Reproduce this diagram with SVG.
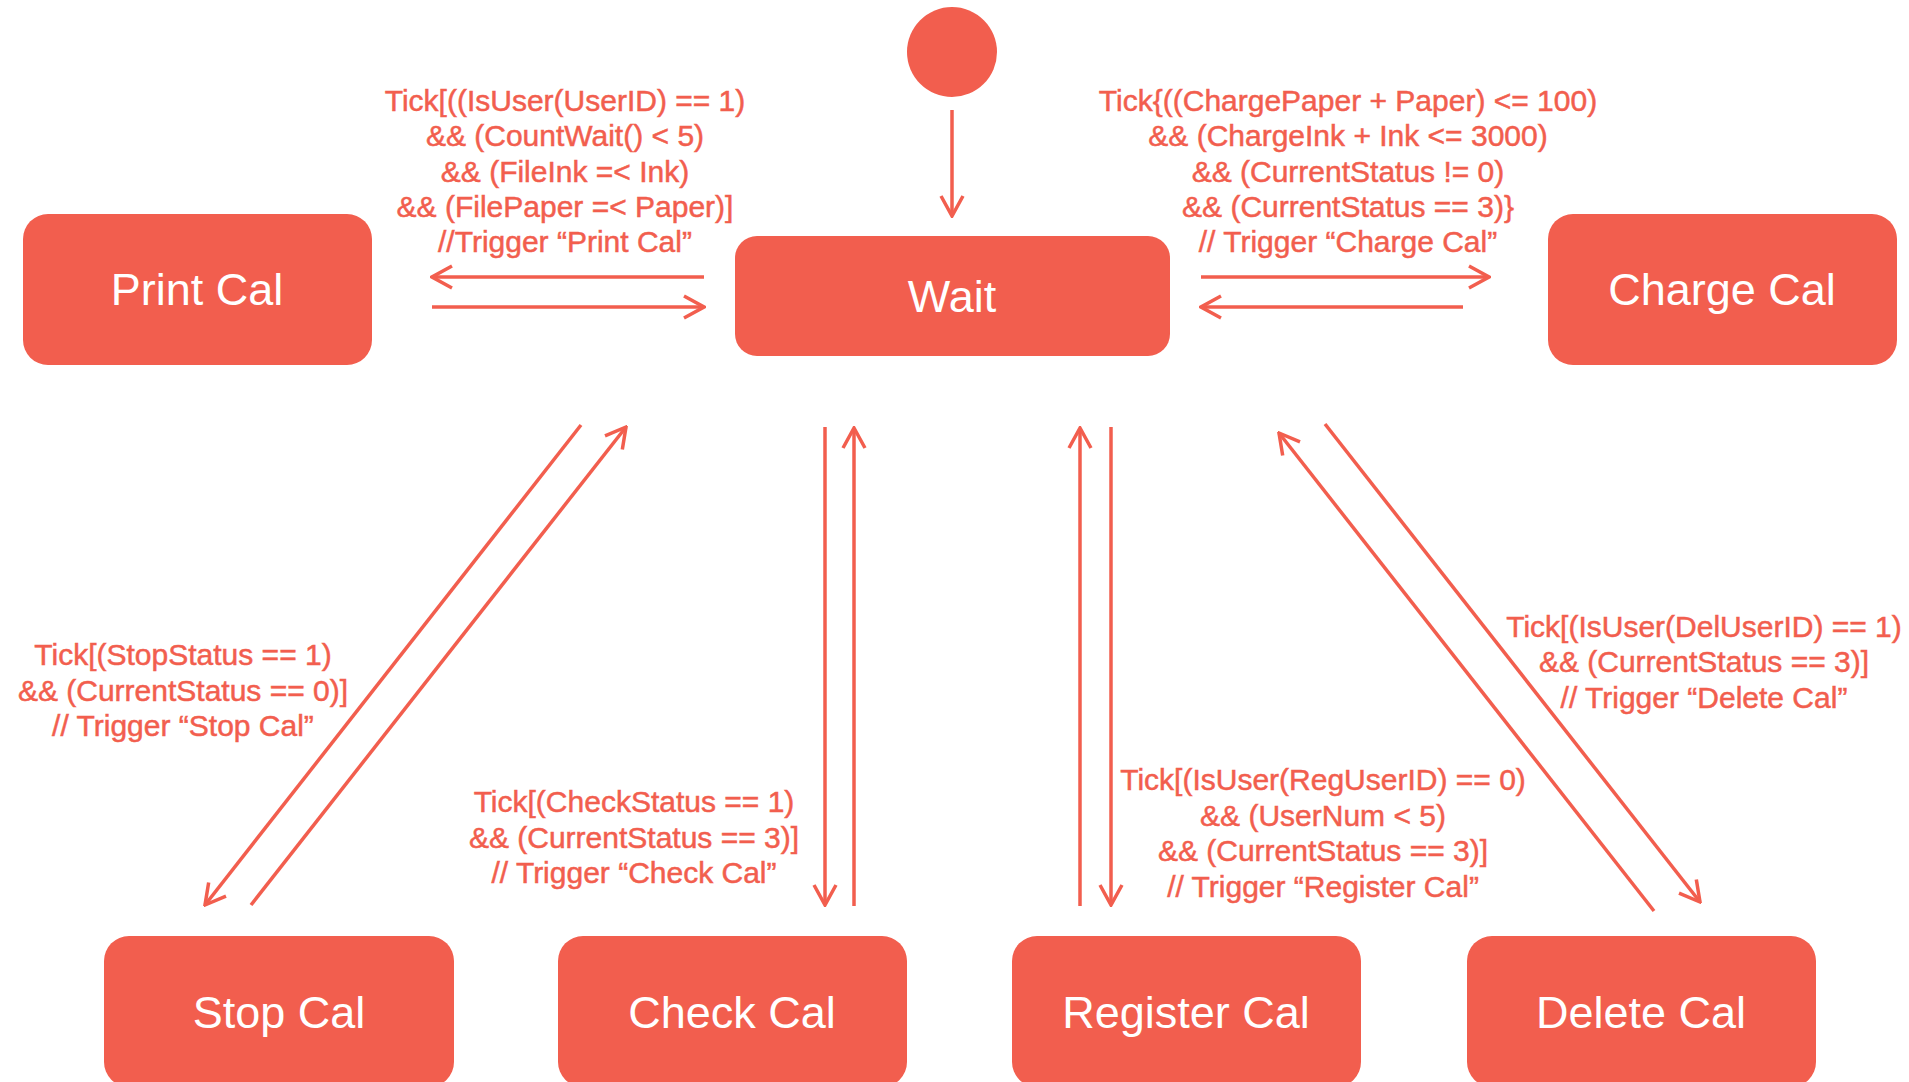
<svg xmlns="http://www.w3.org/2000/svg" width="1909" height="1082" viewBox="0 0 1909 1082">
<style>
.node rect{fill:#F25E4E}
.node text{fill:#FFFFFF;font-family:"Liberation Sans",Arial,sans-serif;font-size:45px;text-anchor:middle}
.lbl{fill:#F25E4E;stroke:#F25E4E;stroke-width:0.5;font-family:"Liberation Sans",Arial,sans-serif;font-size:30px;text-anchor:middle}
.edge{stroke:#F25E4E;stroke-width:3.5;fill:none;marker-end:url(#arr)}
</style>
<defs>
<marker id="arr" markerUnits="userSpaceOnUse" viewBox="0 0 24 26" refX="22" refY="13" markerWidth="24" markerHeight="26" orient="auto">
<path d="M2,2 L22,13 L2,24" fill="none" stroke="#F25E4E" stroke-width="3.5"/>
</marker>
</defs>
<rect width="1909" height="1082" fill="#FFFFFF"/>
<g id="start"><circle cx="952" cy="52" r="45" fill="#F25E4E"/></g>
<g id="wait" class="node"><rect x="735" y="236" width="435" height="120" rx="22"/><text x="952" y="312">Wait</text></g>
<g id="print" class="node"><rect x="23" y="214" width="349" height="151" rx="25"/><text x="197" y="305">Print Cal</text></g>
<g id="charge" class="node"><rect x="1548" y="214" width="349" height="151" rx="25"/><text x="1722" y="305">Charge Cal</text></g>
<g id="stop" class="node"><rect x="104" y="936" width="350" height="151" rx="25"/><text x="279" y="1028">Stop Cal</text></g>
<g id="check" class="node"><rect x="558" y="936" width="349" height="151" rx="25"/><text x="732" y="1028">Check Cal</text></g>
<g id="register" class="node"><rect x="1012" y="936" width="349" height="151" rx="25"/><text x="1186" y="1028">Register Cal</text></g>
<g id="delete" class="node"><rect x="1467" y="936" width="349" height="151" rx="25"/><text x="1641" y="1028">Delete Cal</text></g>
<g id="connectors">
<line class="edge" x1="952" y1="110" x2="952" y2="216"/>
<line class="edge" x1="704" y1="277" x2="432" y2="277"/>
<line class="edge" x1="432" y1="307" x2="704" y2="307"/>
<line class="edge" x1="1201" y1="277" x2="1489" y2="277"/>
<line class="edge" x1="1463" y1="307" x2="1201" y2="307"/>
<line class="edge" x1="581" y1="425" x2="205" y2="905"/>
<line class="edge" x1="251" y1="905" x2="626" y2="427"/>
<line class="edge" x1="825" y1="427" x2="825" y2="905"/>
<line class="edge" x1="854" y1="906" x2="854" y2="428"/>
<line class="edge" x1="1080" y1="906" x2="1080" y2="428"/>
<line class="edge" x1="1111" y1="427" x2="1111" y2="905"/>
<line class="edge" x1="1654" y1="911" x2="1279" y2="433"/>
<line class="edge" x1="1325" y1="424" x2="1700" y2="902"/>
</g>
<g id="labels">
<text class="lbl" x="565" y="111">Tick[((IsUser(UserID) == 1)<tspan x="565" dy="35.3">&amp;&amp; (CountWait() &lt; 5)</tspan><tspan x="565" dy="35.3">&amp;&amp; (FileInk =&lt; Ink)</tspan><tspan x="565" dy="35.3">&amp;&amp; (FilePaper =&lt; Paper)]</tspan><tspan x="565" dy="35.3">//Trigger “Print Cal”</tspan></text>
<text class="lbl" x="1348" y="111">Tick{((ChargePaper + Paper) &lt;= 100)<tspan x="1348" dy="35.3">&amp;&amp; (ChargeInk + Ink &lt;= 3000)</tspan><tspan x="1348" dy="35.3">&amp;&amp; (CurrentStatus != 0)</tspan><tspan x="1348" dy="35.3">&amp;&amp; (CurrentStatus == 3)}</tspan><tspan x="1348" dy="35.3">// Trigger “Charge Cal”</tspan></text>
<text class="lbl" x="183" y="665">Tick[(StopStatus == 1)<tspan x="183" dy="35.5">&amp;&amp; (CurrentStatus == 0)]</tspan><tspan x="183" dy="35.5">// Trigger “Stop Cal”</tspan></text>
<text class="lbl" x="634" y="812">Tick[(CheckStatus == 1)<tspan x="634" dy="35.5">&amp;&amp; (CurrentStatus == 3)]</tspan><tspan x="634" dy="35.5">// Trigger “Check Cal”</tspan></text>
<text class="lbl" x="1323" y="790">Tick[(IsUser(RegUserID) == 0)<tspan x="1323" dy="35.5">&amp;&amp; (UserNum &lt; 5)</tspan><tspan x="1323" dy="35.5">&amp;&amp; (CurrentStatus == 3)]</tspan><tspan x="1323" dy="35.5">// Trigger “Register Cal”</tspan></text>
<text class="lbl" x="1704" y="637">Tick[(IsUser(DelUserID) == 1)<tspan x="1704" dy="35.3">&amp;&amp; (CurrentStatus == 3)]</tspan><tspan x="1704" dy="35.3">// Trigger “Delete Cal”</tspan></text>
</g>
</svg>
